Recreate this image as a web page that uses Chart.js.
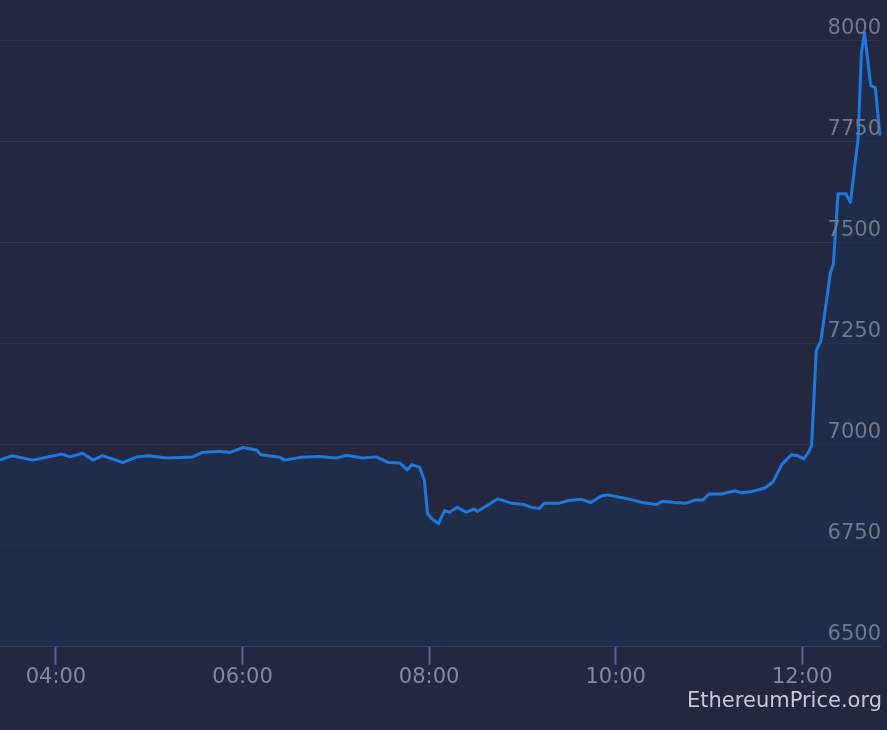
<!DOCTYPE html>
<html>
<head>
<meta charset="utf-8">
<script src="https://cdn.jsdelivr.net/npm/chart.js@4/dist/chart.umd.min.js"></script>
<style>
  html, body { margin: 0; padding: 0; background: #232840; }
  #wrap { position: relative; width: 887px; height: 730px; }
  #mark { position: absolute; right: 5px; top: 686px; font: 21px "DejaVu Sans", sans-serif; color: #c6c9d4; line-height: 28px; }
</style>
</head>
<body>
<div id="wrap">
  <canvas id="c" width="887" height="730"></canvas>
  <div id="mark">EthereumPrice.org</div>
</div>
<script>
const times = ["03:24","03:32","03:45","04:04","04:09","04:17","04:24","04:30","04:43","04:52",
  "05:00","05:11","05:28","05:34","05:45","05:52","06:00","06:09","06:12","06:24",
  "06:27","06:38","06:49","07:00","07:07","07:17","07:26","07:34","07:41","07:46",
  "07:49","07:54","07:57","07:59","08:02","08:06","08:10","08:13","08:18","08:24",
  "08:29","08:31","08:37","08:44","08:47","08:53","09:00","09:06","09:11","09:14",
  "09:23","09:30","09:38","09:44","09:51","09:55","10:08","10:17","10:26","10:30",
  "10:38","10:45","10:51","10:56","11:00","11:08","11:17","11:21","11:27","11:36",
  "11:41","11:47","11:53","11:57","12:01","12:04","12:06","12:09","12:12","12:18",
  "12:20","12:23","12:28","12:31","12:36","12:38","12:40","12:44","12:47","12:50"];
const prices = [6962,6973,6962,6977,6970,6979,6962,6973,6956,6970,
  6973,6967,6970,6981,6984,6981,6993,6987,6975,6969,
  6962,6969,6971,6967,6974,6967,6970,6956,6955,6938,
  6951,6944,6911,6829,6816,6805,6837,6833,6845,6833,
  6841,6835,6849,6866,6863,6855,6853,6845,6842,6855,
  6855,6862,6865,6857,6874,6876,6866,6857,6852,6860,
  6857,6855,6863,6863,6878,6878,6886,6881,6884,6893,
  6907,6952,6975,6973,6965,6981,6998,7233,7257,7423,
  7447,7621,7621,7600,7761,7967,8021,7889,7884,7765];
const xTickLabels = ["04:00","06:00","08:00","10:00","12:00"];
const yTickValues = [6500,6750,7000,7250,7500,7750,8000];
const xRange = ["03:24","12:50"];
const yRange = [6500,8067];

const toMin = s => { const [h,m] = s.split(":").map(Number); return h*60+m; };
const fmt = v => { const h = Math.floor(v/60), m = Math.round(v%60); return String(h).padStart(2,"0")+":"+String(m).padStart(2,"0"); };
const points = times.map((t,i) => ({x: toMin(t), y: prices[i]}));

new Chart(document.getElementById("c"), {
  type: "line",
  data: { datasets: [{
    data: points,
    borderColor: "#1e78dc",
    borderWidth: 3,
    backgroundColor: "rgba(30,48,82,0.6)",
    fill: "start",
    pointRadius: 0,
    tension: 0,
    borderJoinStyle: "round",
    clip: false
  }]},
  options: {
    responsive: false,
    animation: false,
    layout: { padding: { left: 0, right: 5, top: 0, bottom: 40 } },
    plugins: { legend: { display: false }, tooltip: { enabled: false } },
    scales: {
      x: {
        type: "linear",
        min: toMin(xRange[0]), max: toMin(xRange[1]),
        afterBuildTicks: s => { s.ticks = xTickLabels.map(l => ({value: toMin(l)})); },
        ticks: { callback: v => fmt(v), color: "#848999", font: { family: "DejaVu Sans", size: 21 }, padding: 0, maxRotation: 0, autoSkip: false },
        grid: { drawOnChartArea: false, drawTicks: true, tickLength: 18, tickColor: "#5a6092", tickWidth: 2 },
        border: { display: true, color: "#3d4570", width: 1 }
      },
      y: {
        position: "right",
        min: yRange[0], max: yRange[1],
        afterBuildTicks: s => { s.ticks = yTickValues.map(v => ({value: v})); },
        ticks: { z: 1, mirror: true, padding: 1, labelOffset: -12, color: "#72778a", font: { family: "DejaVu Sans", size: 21 }, callback: v => String(v) },
        grid: { color: "#2f3454", drawTicks: false, lineWidth: 1 },
        border: { display: false }
      }
    }
  }
});
</script>
</body>
</html>
